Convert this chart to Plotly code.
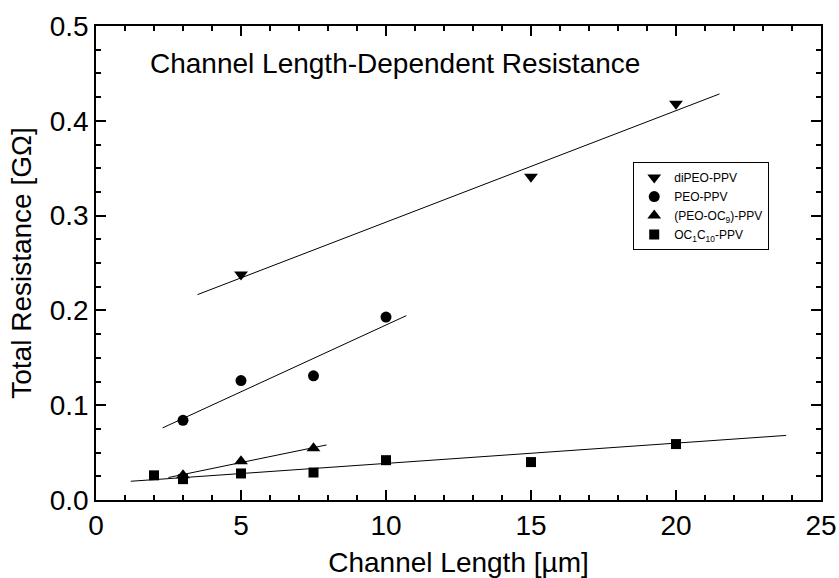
import numpy as np
import plotly.graph_objects as go

# ---- data ----
names = ["diPEO-PPV", "PEO-PPV", "(PEO-OC<sub>9</sub>)-PPV", "OC<sub>1</sub>C<sub>10</sub>-PPV"]

dipeo_x = [5, 15, 20]
dipeo_y = [0.238, 0.341, 0.418]

peo_x = [3, 5, 7.5, 10]
peo_y = [0.084, 0.126, 0.131, 0.193]

peooc9_x = [3, 5, 7.5]
peooc9_y = [0.026, 0.041, 0.0545]

oc1c10_x = [2, 3, 5, 7.5, 10, 15, 20]
oc1c10_y = [0.026, 0.022, 0.028, 0.029, 0.042, 0.040, 0.059]

# linear fits drawn in the picture: slope, intercept, x-start, x-end
fit_slope = [0.01176, 0.01409, 0.0063, 0.00214]
fit_intercept = [0.1755, 0.0437, 0.008, 0.0172]
fit_xmin = [3.5, 2.3, 2.5, 1.2]
fit_xmax = [21.5, 10.7, 7.95, 23.8]

symbols = ["triangle-down", "circle", "triangle-up", "square"]
sizes = [12, 11, 12, 10]

FONT = "Arial, 'Liberation Sans', sans-serif"

fig = go.Figure()
series = [(dipeo_x, dipeo_y), (peo_x, peo_y), (peooc9_x, peooc9_y), (oc1c10_x, oc1c10_y)]
for i, (xs, ys) in enumerate(series):
    fig.add_trace(go.Scatter(
        x=xs, y=ys, mode="markers", name=names[i],
        marker=dict(symbol=symbols[i], size=sizes[i], color="black", line=dict(width=0)),
    ))
for i in range(4):
    fx = np.array([fit_xmin[i], fit_xmax[i]])
    fy = fit_slope[i] * fx + fit_intercept[i]
    fig.add_trace(go.Scatter(
        x=fx, y=fy, mode="lines", showlegend=False,
        line=dict(color="black", width=1),
    ))

axis_common = dict(
    showline=True, linecolor="black", linewidth=1.5, mirror="allticks",
    ticks="inside", ticklen=10, tickwidth=1.5, tickcolor="black",
    showgrid=False, zeroline=False, automargin=False,
    tickfont=dict(family=FONT, size=28, color="black"),
)

fig.update_xaxes(
    range=[0, 25], dtick=5, tick0=0,
    minor=dict(dtick=1, ticks="inside", ticklen=5, tickwidth=1.5, tickcolor="black"),
    title=dict(text="Channel Length [µm]", font=dict(family=FONT, size=28, color="black"), standoff=14),
    **axis_common,
)
fig.update_yaxes(
    range=[0, 0.5], dtick=0.1, tick0=0, tickformat=".1f",
    minor=dict(dtick=0.025, ticks="inside", ticklen=5, tickwidth=1.5, tickcolor="black"),
    title=dict(text="Total Resistance [GΩ]", font=dict(family=FONT, size=28, color="black"), standoff=10),
    **axis_common,
)

fig.add_annotation(
    text="Channel Length-Dependent Resistance", xref="paper", yref="paper",
    x=0.072, y=0.92, xanchor="left", yanchor="middle", showarrow=False,
    font=dict(family=FONT, size=28, color="black"),
)

fig.update_layout(
    width=839, height=578,
    margin=dict(l=96, r=18, t=26, b=78),
    paper_bgcolor="white", plot_bgcolor="white",
    font=dict(family=FONT, color="black"),
    legend=dict(
        x=0.741, y=0.713, xanchor="left", yanchor="top",
        bgcolor="white", bordercolor="black", borderwidth=1,
        font=dict(family=FONT, size=12, color="black"),
        tracegroupgap=0, itemwidth=30,
    ),
)

fig.write_html("out.html")
